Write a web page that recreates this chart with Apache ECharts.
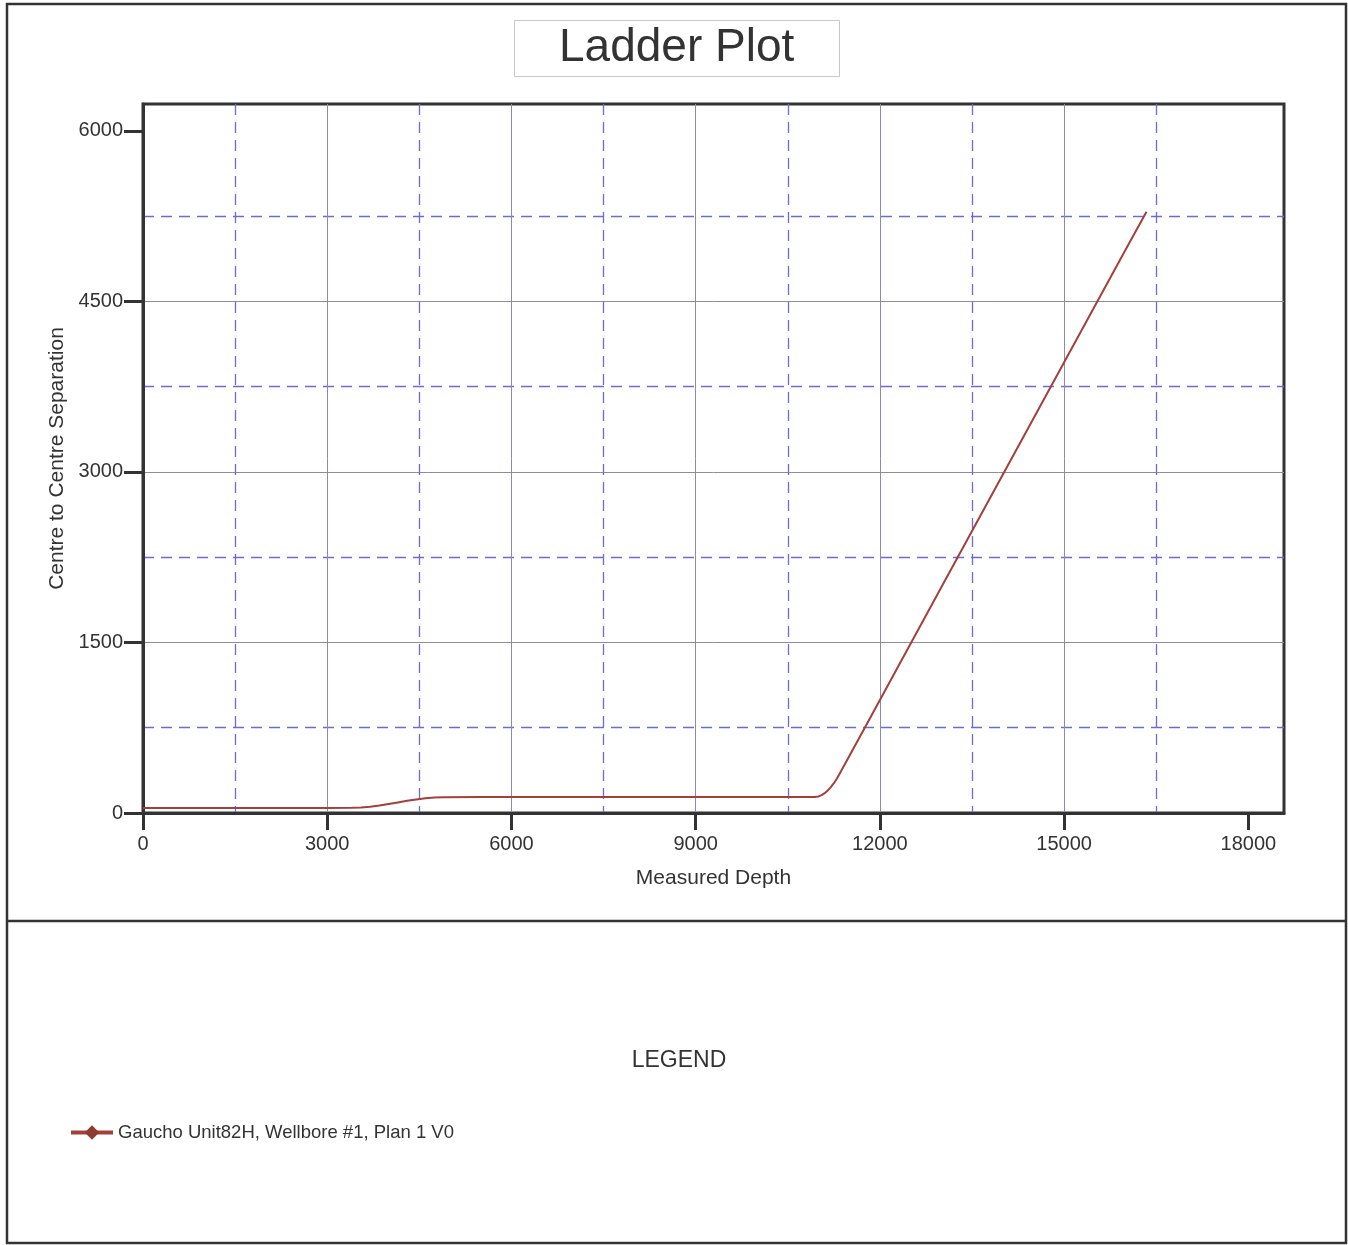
<!DOCTYPE html>
<html>
<head>
<meta charset="utf-8">
<script src="https://cdn.jsdelivr.net/npm/echarts@6/dist/echarts.min.js"></script>
<style>
html,body{margin:0;padding:0;background:#fff;}
#chart{width:1348px;height:1245px;}
</style>
</head>
<body>
<div id="chart"></div>
<script>
// ---- data ----
const measuredDepth = [0, 1000, 2000, 3000, 3400, 3550, 3700, 3850, 4000, 4150, 4300, 4450, 4600, 4750, 4900, 5500, 7000, 9000, 10500, 10937, 11000, 11050, 11100, 11150, 11200, 11250, 11300, 11337, 11500, 12000, 13000, 14000, 15000, 16000, 16341];
const separation   = [45, 45, 45, 45, 46, 49, 56, 66, 79, 93, 107, 119, 129, 136, 139, 141, 141, 141, 141, 141, 146, 157, 174, 197, 227, 262, 304, 339, 500, 994, 1985, 2975, 3965, 4955, 5290];
const xTickValues = [0, 3000, 6000, 9000, 12000, 15000, 18000];
const yTickValues = [0, 1500, 3000, 4500, 6000];
const seriesName = 'Gaucho Unit82H, Wellbore #1, Plan 1 V0';

const lineData = measuredDepth.map((d, i) => [d, separation[i]]);

const FONT = "'Liberation Sans', Arial, sans-serif";
const XMAX = 18580, YMAX = 6237;
const dashColor = '#6b6bd8';
const solidColor = '#8c8ca6';
const plain = v => String(v);

const chart = echarts.init(document.getElementById('chart'));
chart.setOption({
  animation: false,
  backgroundColor: '#fff',
  title: {
    text: 'Ladder Plot',
    left: 514, top: 21,
    padding: [5, 45],
    borderColor: '#c8c8c8', borderWidth: 1,
    textStyle: { fontFamily: FONT, fontSize: 46, fontWeight: 'normal', color: '#333', lineHeight: 45 }
  },
  legend: {
    data: [seriesName],
    left: 64, top: 1118,
    itemWidth: 42, itemHeight: 18,
    itemGap: 10,
    lineStyle: { width: 4 },
    textStyle: { fontFamily: FONT, fontSize: 18.5, color: '#333' }
  },
  grid: {
    left: 143, right: 64, top: 104, bottom: 432,
    show: true, borderColor: '#333', borderWidth: 3, backgroundColor: 'transparent'
  },
  xAxis: [
    {
      type: 'value', min: 0, max: XMAX, interval: 1500,
      axisLine: { show: false }, axisTick: { show: false }, axisLabel: { show: false },
      splitLine: { show: true, showMaxLine: false, lineStyle: { color: ['rgba(0,0,0,0)', dashColor], width: 1.3, type: [11, 7] } }
    },
    {
      type: 'value', min: 0, max: XMAX, interval: 3000, position: 'bottom',
      name: 'Measured Depth', nameLocation: 'middle', nameGap: 55,
      nameTextStyle: { fontFamily: FONT, fontSize: 21, color: '#333' },
      axisLine: { show: true, onZero: false, lineStyle: { color: '#333', width: 3 } },
      axisTick: { show: true, length: 17, customValues: xTickValues, lineStyle: { color: '#333', width: 3 } },
      axisLabel: { margin: 21, customValues: xTickValues, formatter: plain, fontFamily: FONT, fontSize: 20, color: '#333' },
      splitLine: { show: true, showMinLine: false, showMaxLine: false, lineStyle: { color: solidColor, width: 1 } }
    }
  ],
  yAxis: [
    {
      type: 'value', min: 0, max: YMAX, interval: 750,
      axisLine: { show: false }, axisTick: { show: false }, axisLabel: { show: false },
      splitLine: { show: true, showMaxLine: false, lineStyle: { color: ['rgba(0,0,0,0)', dashColor], width: 1.3, type: [11, 7] } }
    },
    {
      type: 'value', min: 0, max: YMAX, interval: 1500, position: 'left',
      name: 'Centre to Centre Separation', nameLocation: 'middle', nameGap: 62,
      nameTextStyle: { fontFamily: FONT, fontSize: 21, color: '#333' },
      axisLine: { show: true, onZero: false, lineStyle: { color: '#333', width: 3 } },
      axisTick: { show: true, length: 19, customValues: yTickValues, lineStyle: { color: '#333', width: 3 } },
      axisLabel: { margin: 20, customValues: yTickValues, formatter: plain, fontFamily: FONT, fontSize: 20, color: '#333' },
      splitLine: { show: true, showMinLine: false, showMaxLine: false, lineStyle: { color: solidColor, width: 1 } }
    }
  ],
  series: [
    {
      name: seriesName,
      type: 'line',
      xAxisIndex: 1, yAxisIndex: 1,
      data: lineData,
      smooth: false,
      showSymbol: false,
      symbol: 'diamond', symbolSize: 14,
      lineStyle: { color: '#a3403a', width: 2, join: 'round' },
      itemStyle: { color: '#8e3b30' },
      z: 5
    }
  ],
  graphic: [
    { type: 'rect', shape: { x: 7, y: 4, width: 1339, height: 1239 }, style: { fill: 'none', stroke: '#333', lineWidth: 2.5 }, silent: true },
    { type: 'line', shape: { x1: 7, y1: 921, x2: 1346, y2: 921 }, style: { stroke: '#333', lineWidth: 2.5 }, silent: true },
    { type: 'text', x: 679, y: 1061, style: { text: 'LEGEND', fontFamily: FONT, fontSize: 23, fill: '#333', align: 'center', verticalAlign: 'middle' }, silent: true }
  ]
});
</script>
</body>
</html>
